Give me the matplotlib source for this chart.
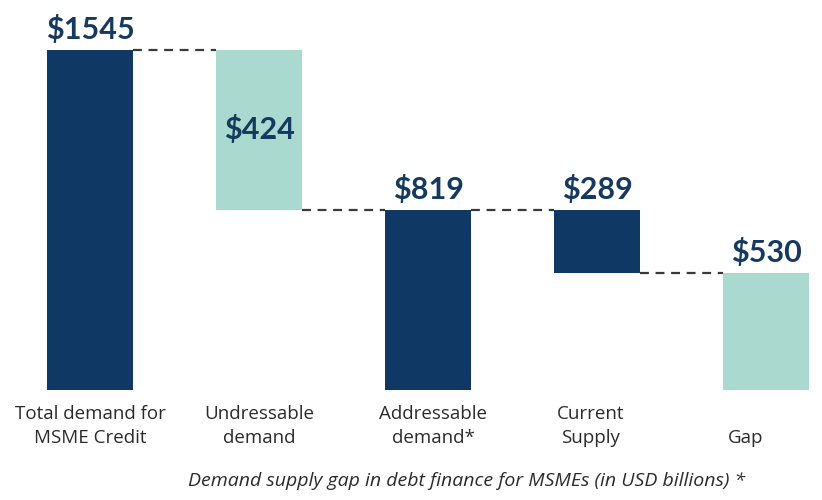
"""
MSME credit demand/supply waterfall.
Output: out.png
"""

import matplotlib.pyplot as plt

# ── Data ──────────────────────────────────────────────────────────────────────

categories = [
    "Total demand for\nMSME Credit",
    "Undressable\ndemand",
    "Addressable\ndemand*",
    "Current\nSupply",
    "\nGap",
]
bar_bottoms = [0, 819, 0, 530, 0]
bar_tops = [1545, 1545, 819, 819, 530]
value_labels = ["$1545", "$424", "$819", "$289", "$530"]
is_total = [True, False, True, True, False]

caption = "Demand supply gap in debt finance for MSMEs (in USD billions) *"

DARK = "#0f3864"
LIGHT = "#a9d9cf"
TEXT = "#2b2b2b"

# ── Plot ──────────────────────────────────────────────────────────────────────

fig = plt.figure(figsize=(8.22, 5), dpi=100)
ax = fig.add_axes([0, 0, 1, 1])
ax.set_xlim(-0.533, 4.331)
ax.set_ylim(-500, 1772)
ax.axis("off")

x = range(len(categories))
heights = [t - b for t, b in zip(bar_tops, bar_bottoms)]
colours = [DARK if t else LIGHT for t in is_total]
width = 0.51
ax.bar(x, heights, bottom=bar_bottoms, width=width, color=colours, linewidth=0)

# connector lines between consecutive bars
for i in range(len(categories) - 1):
    level = bar_tops[0] if i == 0 else (bar_bottoms[i] or bar_tops[i])
    ax.plot([i + width / 2, i + 1 - width / 2], [level, level],
            color="#3a3a3a", lw=1.6, ls=(0, (4, 3)))

# value labels
for i, lab in enumerate(value_labels):
    if i == 1:
        y = (bar_tops[i] + bar_bottoms[i]) / 2
        va = "center"
    else:
        y = bar_tops[i] + 28
        va = "bottom"
    ax.text(i, y, lab, ha="center", va=va, fontsize=22, fontweight="bold",
            color="#163a5f", family="Lato")

# category labels
x_shift = [0, 0, 0.03, -0.04, -0.12]
for i, cat in enumerate(categories):
    ax.text(i + x_shift[i], -70, cat, ha="center", va="top",
            fontsize=13.5, color=TEXT, family="Open Sans", linespacing=1.4)

ax.text(2.23, -415, caption, ha="center", va="center", fontsize=14,
        style="italic", color=TEXT, family="Open Sans")

fig.savefig("out.png", dpi=100)
plt.close(fig)
